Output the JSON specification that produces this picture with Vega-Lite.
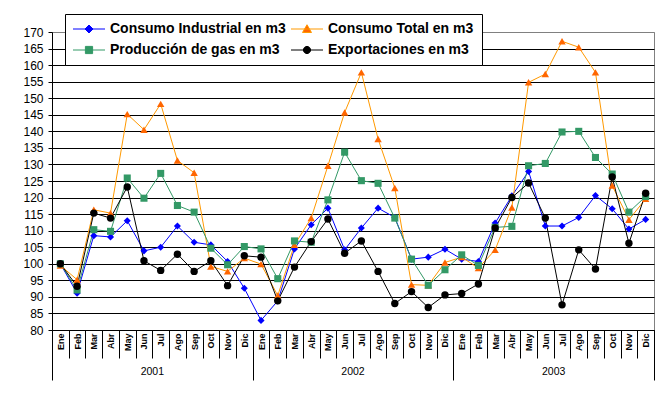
{
  "$schema": "https://vega.github.io/schema/vega-lite/v6.json",
  "width": 602,
  "height": 298,
  "autosize": "none",
  "padding": {"left": 52, "top": 32, "right": 18, "bottom": 71},
  "background": "white",
  "config": {
    "font": "Liberation Sans",
    "view": {"stroke": "#808080", "strokeWidth": 1},
    "axis": {"labelColor": "black", "tickColor": "black", "domainColor": "black", "titleColor": "black"}
  },
  "data": {
    "values": [
      {"periodo": "Ene 2001", "Consumo Industrial en m3": 100, "Consumo Total en m3": 99.5, "Producción de gas en m3": 100, "Exportaciones en m3": 100},
      {"periodo": "Feb 2001", "Consumo Industrial en m3": 91.1, "Consumo Total en m3": 95.2, "Producción de gas en m3": 92.1, "Exportaciones en m3": 93.2},
      {"periodo": "Mar 2001", "Consumo Industrial en m3": 108.5, "Consumo Total en m3": 116.3, "Producción de gas en m3": 110.3, "Exportaciones en m3": 115.3},
      {"periodo": "Abr 2001", "Consumo Industrial en m3": 108.1, "Consumo Total en m3": 115.3, "Producción de gas en m3": 109.8, "Exportaciones en m3": 113.8},
      {"periodo": "May 2001", "Consumo Industrial en m3": 113, "Consumo Total en m3": 145.2, "Producción de gas en m3": 125.9, "Exportaciones en m3": 123.2},
      {"periodo": "Jun 2001", "Consumo Industrial en m3": 103.9, "Consumo Total en m3": 140.5, "Producción de gas en m3": 119.8, "Exportaciones en m3": 100.9},
      {"periodo": "Jul 2001", "Consumo Industrial en m3": 105, "Consumo Total en m3": 148.3, "Producción de gas en m3": 127.3, "Exportaciones en m3": 98},
      {"periodo": "Ago 2001", "Consumo Industrial en m3": 111.4, "Consumo Total en m3": 131.2, "Producción de gas en m3": 117.6, "Exportaciones en m3": 102.9},
      {"periodo": "Sep 2001", "Consumo Industrial en m3": 106.5, "Consumo Total en m3": 127.5, "Producción de gas en m3": 115.6, "Exportaciones en m3": 97.7},
      {"periodo": "Oct 2001", "Consumo Industrial en m3": 105.7, "Consumo Total en m3": 99.2, "Producción de gas en m3": 104.7, "Exportaciones en m3": 100.9},
      {"periodo": "Nov 2001", "Consumo Industrial en m3": 100.7, "Consumo Total en m3": 97.7, "Producción de gas en m3": 99.7, "Exportaciones en m3": 93.4},
      {"periodo": "Dic 2001", "Consumo Industrial en m3": 92.6, "Consumo Total en m3": 101.7, "Producción de gas en m3": 105.2, "Exportaciones en m3": 102.4},
      {"periodo": "Ene 2002", "Consumo Industrial en m3": 82.9, "Consumo Total en m3": 99.9, "Producción de gas en m3": 104.5, "Exportaciones en m3": 102},
      {"periodo": "Feb 2002", "Consumo Industrial en m3": 88.8, "Consumo Total en m3": 90.4, "Producción de gas en m3": 95.5, "Exportaciones en m3": 88.8},
      {"periodo": "Mar 2002", "Consumo Industrial en m3": 104.5, "Consumo Total en m3": 105.7, "Producción de gas en m3": 106.9, "Exportaciones en m3": 99},
      {"periodo": "Abr 2002", "Consumo Industrial en m3": 111.8, "Consumo Total en m3": 113.8, "Producción de gas en m3": 106.5, "Exportaciones en m3": 106.7},
      {"periodo": "May 2002", "Consumo Industrial en m3": 116.8, "Consumo Total en m3": 129.6, "Producción de gas en m3": 119.3, "Exportaciones en m3": 113.5},
      {"periodo": "Jun 2002", "Consumo Industrial en m3": 104.2, "Consumo Total en m3": 145.7, "Producción de gas en m3": 133.7, "Exportaciones en m3": 103.2},
      {"periodo": "Jul 2002", "Consumo Industrial en m3": 110.8, "Consumo Total en m3": 157.8, "Producción de gas en m3": 125.1, "Exportaciones en m3": 106.9},
      {"periodo": "Ago 2002", "Consumo Industrial en m3": 116.8, "Consumo Total en m3": 137.7, "Producción de gas en m3": 124.3, "Exportaciones en m3": 97.7},
      {"periodo": "Sep 2002", "Consumo Industrial en m3": 114, "Consumo Total en m3": 122.9, "Producción de gas en m3": 113.8, "Exportaciones en m3": 88},
      {"periodo": "Oct 2002", "Consumo Industrial en m3": 101.4, "Consumo Total en m3": 93.7, "Producción de gas en m3": 101.4, "Exportaciones en m3": 91.6},
      {"periodo": "Nov 2002", "Consumo Industrial en m3": 102, "Consumo Total en m3": 93.5, "Producción de gas en m3": 93.5, "Exportaciones en m3": 86.8},
      {"periodo": "Dic 2002", "Consumo Industrial en m3": 104.4, "Consumo Total en m3": 100.4, "Producción de gas en m3": 98.2, "Exportaciones en m3": 90.6},
      {"periodo": "Ene 2003", "Consumo Industrial en m3": 101.4, "Consumo Total en m3": 102, "Producción de gas en m3": 102.7, "Exportaciones en m3": 91},
      {"periodo": "Feb 2003", "Consumo Industrial en m3": 100.7, "Consumo Total en m3": 98.7, "Producción de gas en m3": 99.5, "Exportaciones en m3": 93.9},
      {"periodo": "Mar 2003", "Consumo Industrial en m3": 112.3, "Consumo Total en m3": 104.2, "Producción de gas en m3": 111, "Exportaciones en m3": 110.8},
      {"periodo": "Abr 2003", "Consumo Industrial en m3": 120.5, "Consumo Total en m3": 117, "Producción de gas en m3": 111.3, "Exportaciones en m3": 120},
      {"periodo": "May 2003", "Consumo Industrial en m3": 127.9, "Consumo Total en m3": 154.8, "Producción de gas en m3": 129.6, "Exportaciones en m3": 124.4},
      {"periodo": "Jun 2003", "Consumo Industrial en m3": 111.4, "Consumo Total en m3": 157.3, "Producción de gas en m3": 130.3, "Exportaciones en m3": 113.8},
      {"periodo": "Jul 2003", "Consumo Industrial en m3": 111.4, "Consumo Total en m3": 167.2, "Producción de gas en m3": 139.8, "Exportaciones en m3": 87.6},
      {"periodo": "Ago 2003", "Consumo Industrial en m3": 114, "Consumo Total en m3": 165.4, "Producción de gas en m3": 140, "Exportaciones en m3": 104.2},
      {"periodo": "Sep 2003", "Consumo Industrial en m3": 120.6, "Consumo Total en m3": 157.8, "Producción de gas en m3": 132.1, "Exportaciones en m3": 98.4},
      {"periodo": "Oct 2003", "Consumo Industrial en m3": 116.6, "Consumo Total en m3": 123.6, "Producción de gas en m3": 127.1, "Exportaciones en m3": 126.2},
      {"periodo": "Nov 2003", "Consumo Industrial en m3": 110.5, "Consumo Total en m3": 113.3, "Producción de gas en m3": 115.6, "Exportaciones en m3": 106.2},
      {"periodo": "Dic 2003", "Consumo Industrial en m3": 113.4, "Consumo Total en m3": 119.6, "Producción de gas en m3": 120.3, "Exportaciones en m3": 121.3}
    ]
  },
  "transform": [
    {"fold": ["Consumo Industrial en m3", "Consumo Total en m3", "Producción de gas en m3", "Exportaciones en m3"], "as": ["serie", "valor"]}
  ],
  "encoding": {
    "y": {
      "field": "valor", "type": "quantitative",
      "scale": {"domain": [80, 170], "nice": false, "zero": false},
      "axis": {
        "title": null,
        "values": [80, 85, 90, 95, 100, 105, 110, 115, 120, 125, 130, 135, 140, 145, 150, 155, 160, 165, 170],
        "labelOverlap": false,
        "labelFontSize": 12,
        "labelPadding": 5,
        "tickSize": 4,
        "grid": true,
        "gridColor": {"condition": {"test": "datum.value == 170", "value": "#808080"}, "value": "black"},
        "gridOpacity": 1
      }
    }
  },
  "layer": [
    {
      "mark": {"type": "line", "strokeWidth": 1},
      "encoding": {
        "x": {
          "field": "periodo", "type": "ordinal", "sort": null, "bandPosition": 0.5,
          "scale": {"type": "band", "paddingInner": 0, "paddingOuter": 0},
          "axis": {
            "title": null,
            "orient": "bottom",
            "labelExpr": "split(datum.label, ' ')[0]",
            "labelAngle": 270,
            "labelFontSize": 9,
            "labelFontWeight": "bold",
            "labelOverlap": false,
            "ticks": true,
            "tickBand": "extent",
            "tickSize": 28,
            "labelPadding": -25,
            "grid": false
          }
        },
        "stroke": {
          "field": "serie", "type": "nominal",
          "scale": {
            "domain": ["Consumo Industrial en m3", "Consumo Total en m3", "Producción de gas en m3", "Exportaciones en m3"],
            "range": ["#0000FF", "#FF9900", "#339966", "#000000"]
          },
          "legend": {
            "title": null,
            "orient": "none",
            "legendX": 13,
            "legendY": -18,
            "direction": "horizontal",
            "columns": 2,
            "gridAlign": "all",
            "columnPadding": 3,
            "rowPadding": 7,
            "padding": 8,
            "fillColor": "white",
            "strokeColor": "black",
            "labelFont": "Liberation Sans",
            "labelFontSize": 14,
            "labelFontWeight": "bold",
            "labelColor": "black",
            "symbolSize": 100,
            "symbolStrokeWidth": 1,
            "symbolOffset": 9,
            "labelOffset": 14,
            "labelLimit": 300,
            "encode": {
              "symbols": {
                "update": {
                  "shape": {"signal": "datum.value === 'Consumo Industrial en m3' ? 'M-3.2,0H3.2M0,-0.8L0.8,0L0,0.8L-0.8,0Z' : datum.value === 'Consumo Total en m3' ? 'M-3.2,0H3.2M0,-0.85L0.9,0.7L-0.9,0.7Z' : datum.value === 'Producción de gas en m3' ? 'M-3.2,0H3.2M-0.72,-0.72H0.72V0.72H-0.72Z' : 'M-3.2,0H3.2M-0.72,0A0.72,0.72 0 1,0 0.72,0A0.72,0.72 0 1,0 -0.72,0Z'"},
                  "fill": {"signal": "datum.value === 'Consumo Industrial en m3' ? '#0000FF' : datum.value === 'Consumo Total en m3' ? '#FF6600' : datum.value === 'Producción de gas en m3' ? '#339966' : '#000000'"},
                  "stroke": {"signal": "datum.value === 'Consumo Industrial en m3' ? '#0000FF' : datum.value === 'Consumo Total en m3' ? '#FF9900' : datum.value === 'Producción de gas en m3' ? '#339966' : '#000000'"},
                  "strokeWidth": {"value": 1},
                  "fillOpacity": {"value": 1},
                  "strokeOpacity": {"value": 1}
                }
              }
            }
          }
        }
      }
    },
    {
      "transform": [{"filter": "datum.serie === 'Consumo Industrial en m3'"}],
      "mark": {"type": "point", "shape": "diamond", "filled": true, "size": 50, "opacity": 1, "color": "#0000FF"},
      "encoding": {
        "x": {
          "field": "periodo", "type": "ordinal", "sort": null, "bandPosition": 0.5,
          "axis": {
            "title": null,
            "orient": "bottom",
            "values": ["Jun 2001", "Jun 2002", "Jun 2003"],
            "labelExpr": "split(datum.label, ' ')[1]",
            "labelAngle": 0,
            "labelOffset": 8.36,
            "labelPadding": 36,
            "labelFontSize": 10.5,
            "ticks": false,
            "domain": false,
            "grid": false
          }
        }
      }
    },
    {
      "transform": [{"filter": "datum.serie === 'Consumo Total en m3'"}],
      "mark": {"type": "point", "shape": "triangle-up", "filled": true, "size": 55, "opacity": 1, "color": "#FF6600"},
      "encoding": {
        "x": {
          "field": "periodo", "type": "ordinal", "sort": null, "bandPosition": 0.5,
          "axis": {
            "title": null,
            "orient": "bottom",
            "values": ["Ene 2001", "Dic 2001", "Dic 2002", "Dic 2003"],
            "labels": false,
            "domain": false,
            "grid": false,
            "ticks": true,
            "tickBand": "extent",
            "tickSize": {"condition": {"test": "datum.extra || indexof(datum.value, 'Dic') == 0", "value": 50}, "value": 0}
          }
        }
      }
    },
    {
      "transform": [{"filter": "datum.serie === 'Producción de gas en m3'"}],
      "mark": {"type": "point", "shape": "square", "filled": true, "size": 50, "opacity": 1, "color": "#339966"},
      "encoding": {"x": {"field": "periodo", "type": "ordinal", "sort": null, "bandPosition": 0.5, "axis": null}}
    },
    {
      "transform": [{"filter": "datum.serie === 'Exportaciones en m3'"}],
      "mark": {"type": "point", "shape": "circle", "filled": true, "size": 55, "opacity": 1, "color": "#000000"},
      "encoding": {"x": {"field": "periodo", "type": "ordinal", "sort": null, "bandPosition": 0.5, "axis": null}}
    }
  ],
  "resolve": {"axis": {"x": "independent"}}
}
